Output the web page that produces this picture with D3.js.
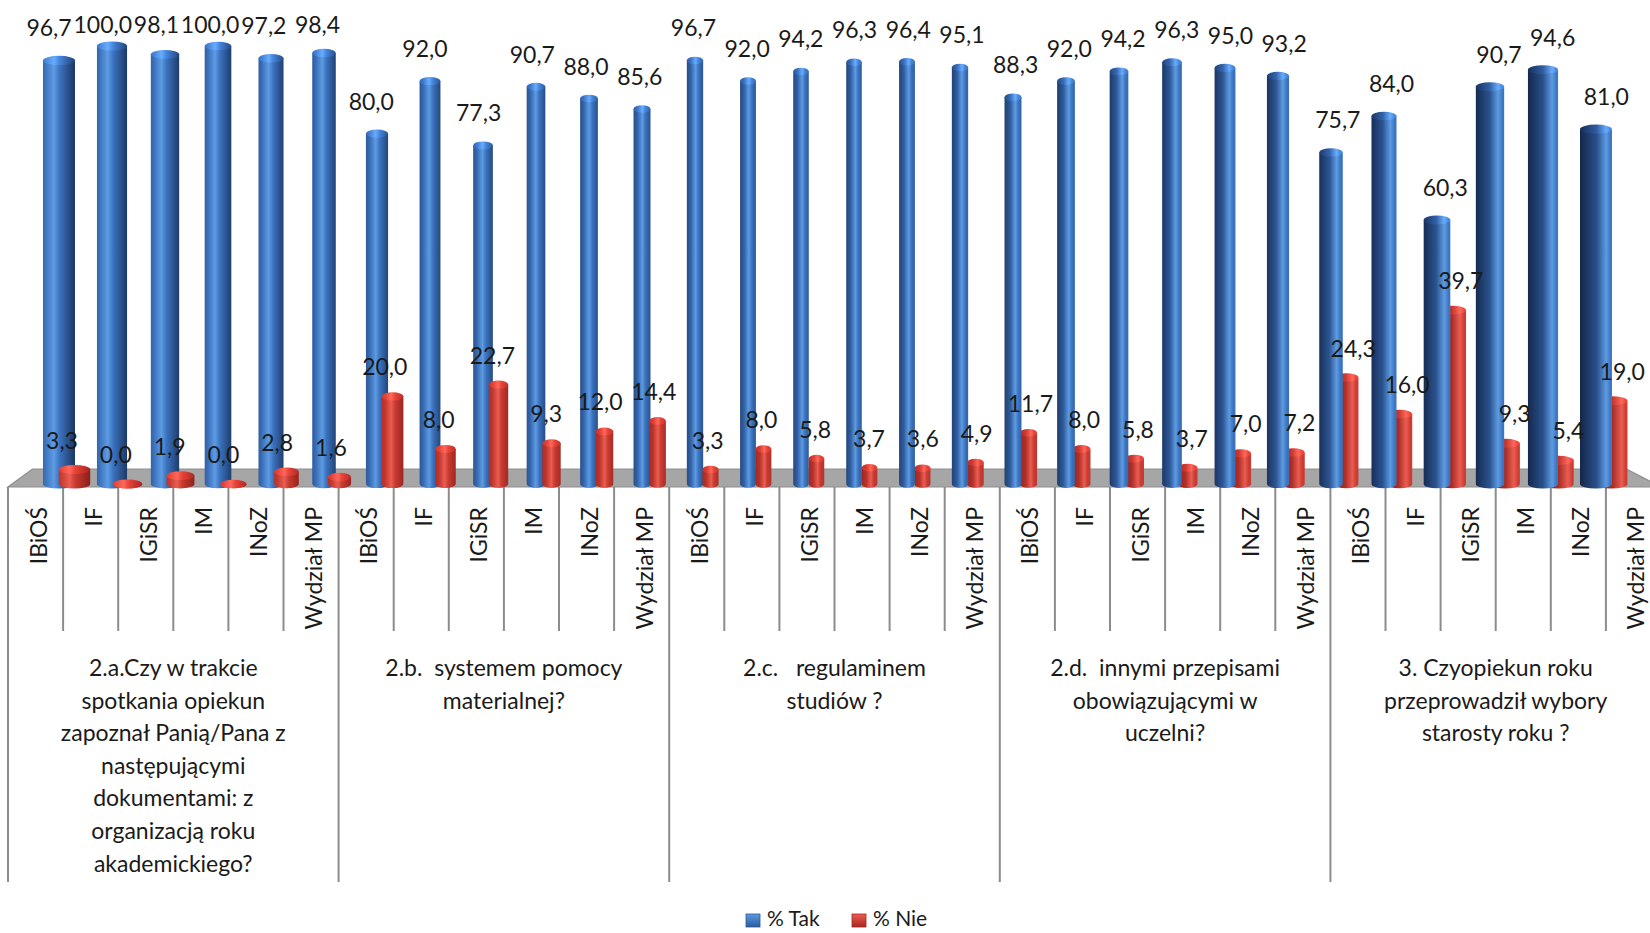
<!DOCTYPE html>
<html><head><meta charset="utf-8">
<script src="https://cdn.jsdelivr.net/npm/d3@7"></script>
<style>
html,body{margin:0;padding:0;background:#fff;}
svg text{font-family:Lato,"Open Sans",sans-serif;fill:#1a1a1a;}
</style></head>
<body><svg id="chart" width="1650" height="933"></svg>
<script>
const categories = ["IBiOŚ","IF","IGiSR","IM","INoZ","Wydział MP"];
const groupLabels = [
  ["2.a.Czy w trakcie","spotkania opiekun","zapoznał Panią/Pana z","następującymi","dokumentami: z","organizacją roku","akademickiego?"],
  ["2.b.  systemem pomocy","materialnej?"],
  ["2.c.   regulaminem","studiów ?"],
  ["2.d.  innymi przepisami","obowiązującymi w","uczelni?"],
  ["3. Czyopiekun roku","przeprowadził wybory","starosty roku ?"]
];
const takValues = [96.7,100.0,98.1,100.0,97.2,98.4, 80.0,92.0,77.3,90.7,88.0,85.6, 96.7,92.0,94.2,96.3,96.4,95.1, 88.3,92.0,94.2,96.3,95.0,93.2, 75.7,84.0,60.3,90.7,94.6,81.0];
const nieValues = [3.3,0.0,1.9,0.0,2.8,1.6, 20.0,8.0,22.7,9.3,12.0,14.4, 3.3,8.0,5.8,3.7,3.6,4.9, 11.7,8.0,5.8,3.7,7.0,7.2, 24.3,16.0,39.7,9.3,5.4,19.0];
const seriesNames = ["% Tak","% Nie"];

const svg = d3.select("#chart");
const defs = svg.append("defs");
const n = takValues.length;
const idx = d3.range(n);
const fmt = v => v.toFixed(1).replace(".", ",");

// scales
const frontX = d3.scaleBand().domain(idx).range([8, 8 + n*55.1]);
const barX = d3.scaleBand().domain(idx).range([32.5, 32.5 + n*53]);
const takLabelX = d3.scaleBand().domain(idx).range([22.2, 22.2 + n*53.7]);
const nieLabelX = d3.scaleBand().domain(idx).range([35.1, 35.1 + n*53.8]);
const y = d3.scaleLinear().domain([0,100]).range([484, 46]);
const persp = d3.scaleLinear().domain([59, 1596]).range([-1, 1]).clamp(true);

const center = i => barX(i) + barX.bandwidth()/2;
const barW = cx => 15.5 + 16.5 * Math.pow(Math.abs(persp(cx)), 1.7);

const pal = {
  tak: {leftA:"#3468b2", leftB:"#14264a", hi:"#5d9be3", mid:"#3b73bf", rightA:"#1b3662", rightB:"#4280cf"},
  nie: {leftA:"#c3362d", leftB:"#7c1b17", hi:"#ea5d52", mid:"#c93a30", rightA:"#8a1d19", rightB:"#d44b41"}
};

function makeGrad(id, cx, p0, light) {
  const t = persp(cx);
  const p = 0.58 + 0.24*t;
  const u = (t+1)/2;
  let eL = d3.interpolateRgb(p0.leftA, p0.leftB)(u);
  let eR = d3.interpolateRgb(p0.rightA, p0.rightB)(u);
  let hi = p0.hi, mid = p0.mid;
  if (light) { eL = d3.rgb(eL).brighter(0.5); eR = d3.rgb(eR).brighter(0.5); hi = d3.rgb(hi).brighter(0.3); mid = d3.rgb(mid).brighter(0.4);}
  const g = defs.append("linearGradient").attr("id", id).attr("x1","0").attr("x2","1").attr("y1","0").attr("y2","0");
  const stops = [[0, eL],[Math.max(0.04, p-0.3), d3.interpolateRgb(eL, mid)(0.55)],[p, hi],[Math.min(0.96, p+0.18), mid],[1, eR]];
  g.selectAll("stop").data(stops).join("stop").attr("offset", d=>d[0]).attr("stop-color", d=>d[1]);
}

// floor
const floorBackY = 469, floorFrontY = 487;
const fx0 = frontX.range()[0], fx1 = frontX.range()[1];
const bx0 = barX.range()[0], bx1 = barX.range()[1] + 4;
svg.append("polygon")
  .attr("points", [[bx0,floorBackY],[bx1,floorBackY],[fx1,floorFrontY],[fx0,floorFrontY]].map(p=>p.join(",")).join(" "))
  .attr("fill","#a6a6a6").attr("stroke","#8e8e8e").attr("stroke-width",1.2);

// dividers (category axis ticks)
const divs = d3.range(n+1);
svg.append("g").selectAll("line").data(divs).join("line")
  .attr("x1", k => fx0 + k*frontX.step()).attr("x2", k => fx0 + k*frontX.step())
  .attr("y1", floorFrontY).attr("y2", k => k % 6 === 0 ? 882 : 631)
  .attr("stroke","#8c8c8c").attr("stroke-width",2);

// bars
const barsG = svg.append("g");
function drawBar(g, i, v, key, offset) {
  const cx = center(i) + offset;
  const w = barW(cx);
  const rx = w/2, ry = 3 + w*0.05;
  const yb = y(0), yt = y(v);
  makeGrad(`g-${key}-${i}`, cx, pal[key], false);
  makeGrad(`c-${key}-${i}`, cx, pal[key], true);
  g.append("path")
    .attr("d", `M${cx-rx},${yt} L${cx-rx},${yb} A${rx},${ry} 0 0 0 ${cx+rx},${yb} L${cx+rx},${yt} Z`)
    .attr("fill", `url(#g-${key}-${i})`);
  g.append("ellipse").attr("cx", cx).attr("cy", yt).attr("rx", rx).attr("ry", ry)
    .attr("fill", `url(#c-${key}-${i})`);
}
idx.forEach(i => {
  const order = center(i) < 827 ? ["tak","nie"] : ["nie","tak"];
  order.forEach(key => {
    if (key === "tak") drawBar(barsG, i, takValues[i], "tak", 0);
    else drawBar(barsG, i, nieValues[i], "nie", 15.5);
  });
});

// value labels
const lab = svg.append("g").attr("font-size", 23).attr("text-anchor","middle");
lab.selectAll("text.tak").data(idx).join("text").attr("class","tak")
  .attr("x", i => takLabelX(i) + takLabelX.bandwidth()/2)
  .attr("y", i => Math.max(33, y(takValues[i]) - 24))
  .text(i => fmt(takValues[i]));
lab.selectAll("text.nie").data(idx).join("text").attr("class","nie")
  .attr("x", i => nieLabelX(i) + nieLabelX.bandwidth()/2)
  .attr("y", i => y(nieValues[i]) - 21)
  .text(i => fmt(nieValues[i]));

// category labels
svg.append("g").selectAll("text").data(idx).join("text")
  .attr("transform", i => `translate(${frontX(i) + frontX.bandwidth()/2 + 2},507) rotate(-90)`)
  .attr("text-anchor","end").attr("dominant-baseline","central")
  .attr("font-size", 23)
  .text(i => categories[i % 6]);

// group labels
const gl = svg.append("g").attr("font-size", 23).attr("text-anchor","middle");
groupLabels.forEach((lines, g) => {
  const cx = fx0 + (g*6 + 3) * frontX.step();
  gl.append("text").attr("x", cx).attr("y", 676)
    .selectAll("tspan").data(lines).join("tspan")
    .attr("x", cx).attr("dy", (d,k) => k === 0 ? 0 : 32.6)
    .style("white-space","pre").text(d => d);
});

// legend
const legColors = [["#5d9be3","#2b5a9c"],["#ea5d52","#a8261f"]];
const legX = [746, 852];
const leg = svg.append("g");
seriesNames.forEach((s, k) => {
  const lg = defs.append("linearGradient").attr("id","leg"+k).attr("x1",0).attr("x2",0).attr("y1",0).attr("y2",1);
  lg.append("stop").attr("offset",0).attr("stop-color",legColors[k][0]);
  lg.append("stop").attr("offset",1).attr("stop-color",legColors[k][1]);
  leg.append("rect").attr("x", legX[k]).attr("y", 914).attr("width", 14).attr("height", 13)
    .attr("fill", `url(#leg${k})`).attr("stroke", legColors[k][1]).attr("stroke-width", 0.8);
  leg.append("text").attr("x", legX[k] + 21).attr("y", 926).attr("font-size", 21).text(s);
});
</script></body></html>
